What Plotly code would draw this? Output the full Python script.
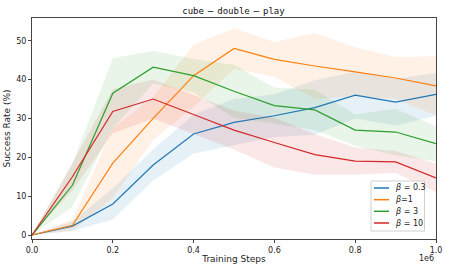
import plotly.graph_objects as go

steps = [0, 100000, 200000, 300000, 400000, 500000, 600000, 700000, 800000, 900000, 1000000]

labels = ["<i>β</i> = 0.3", "<i>β</i>=1", "<i>β</i> = 3", "<i>β</i> = 10"]
colors = ["#1f77b4", "#ff7f0e", "#2ca02c", "#d62728"]
fills = ["rgba(31,119,180,0.11)", "rgba(255,127,14,0.11)", "rgba(44,160,44,0.11)", "rgba(214,39,40,0.11)"]

mean_b03 = [0, 2.3, 8.0, 18.0, 26.0, 29.0, 30.7, 32.8, 36.0, 34.2, 36.2]
std_b03 = [0, 1.2, 4.0, 4.0, 5.0, 6.0, 5.5, 7.0, 6.0, 6.0, 5.5]
mean_b1 = [0, 2.5, 18.5, 30.0, 41.0, 48.0, 45.2, 43.5, 42.0, 40.4, 38.4]
std_b1 = [0, 1.5, 9.0, 5.5, 8.0, 5.2, 4.5, 8.5, 6.3, 5.4, 7.6]
mean_b3 = [0, 12.8, 36.5, 43.2, 41.0, 37.0, 33.3, 32.2, 27.0, 26.5, 23.5]
std_b3 = [0, 5.5, 9.0, 4.2, 4.3, 6.8, 4.6, 5.2, 4.0, 6.0, 4.5]
mean_b10 = [0, 15.0, 31.8, 35.0, 31.0, 27.0, 23.8, 20.7, 19.0, 18.8, 14.7]
std_b10 = [0, 3.5, 5.7, 5.0, 5.0, 5.0, 6.4, 5.2, 3.5, 2.8, 3.7]

means = [mean_b03, mean_b1, mean_b3, mean_b10]
stds = [std_b03, std_b1, std_b3, std_b10]

W, H = 449, 269
L, R, T, B = 32, 13, 18, 30
PW, PH = W - L - R, H - T - B


def px(x):
    return (x - L) / PW


def py(y):
    return (H - B - y) / PH


fig = go.Figure()
for m, s, fc in zip(means, stds, fills):
    up = [a + b for a, b in zip(m, s)]
    lo = [a - b for a, b in zip(m, s)]
    fig.add_trace(go.Scatter(x=steps, y=up, mode="lines", line=dict(width=0),
                             showlegend=False, hoverinfo="skip"))
    fig.add_trace(go.Scatter(x=steps, y=lo, mode="lines", line=dict(width=0),
                             fill="tonexty", fillcolor=fc, showlegend=False, hoverinfo="skip"))
for m, lab, c in zip(means, labels, colors):
    fig.add_trace(go.Scatter(x=steps, y=m, mode="lines", name=lab, showlegend=False,
                             line=dict(color=c, width=1.2)))

# compact legend (matplotlib style)
fig.add_shape(type="rect", xref="paper", yref="paper",
              x0=px(371), x1=px(424.5), y0=py(231), y1=py(181),
              line=dict(color="#d0d0d0", width=1), fillcolor="rgba(255,255,255,0.85)", layer="above")
row_y = [188, 199.7, 211.3, 223]
for lab, c, ry in zip(labels, colors, row_y):
    fig.add_shape(type="line", xref="paper", yref="paper",
                  x0=px(374), x1=px(389), y0=py(ry), y1=py(ry),
                  line=dict(color=c, width=1.5), layer="above")
    fig.add_annotation(text=lab, xref="paper", yref="paper", x=px(393), y=py(ry),
                       xanchor="left", yanchor="middle", showarrow=False,
                       font=dict(size=8, color="#222"))

sep = "<span style='font-family:DejaVu Sans'> \u2212 </span>"
title_text = "cube" + sep + "double" + sep + "play"

fig.update_layout(
    width=W, height=H,
    margin=dict(l=L, r=R, t=T, b=B, autoexpand=False),
    paper_bgcolor="white", plot_bgcolor="white",
    font=dict(family="DejaVu Sans", size=8, color="#222"),
    title=dict(text=title_text, x=233.5 / W, xanchor="center",
               xref="container", yref="container", y=1 - 11 / H, yanchor="middle",
               font=dict(family="DejaVu Sans Mono", size=9, color="#111")),
    showlegend=False,
)
fig.update_xaxes(range=[0, 1000000], tickvals=[0, 200000, 400000, 600000, 800000, 1000000],
                 ticktext=["0.0", "0.2", "0.4", "0.6", "0.8", "1.0"], automargin=False,
                 showgrid=False, zeroline=False, showline=True, linecolor="#444", linewidth=1,
                 mirror=True, ticks="outside", ticklen=3, tickcolor="#444",
                 title=dict(text="Training Steps", font=dict(size=9), standoff=2))
fig.update_yaxes(range=[-1.03, 55.85], tickvals=[0, 10, 20, 30, 40, 50], automargin=False,
                 showgrid=False, zeroline=False, showline=True, linecolor="#444", linewidth=1,
                 mirror=True, ticks="outside", ticklen=3, tickcolor="#444",
                 title=dict(text="Success Rate (%)", font=dict(size=9), standoff=4))
fig.add_annotation(text="1e6", xref="paper", yref="paper", x=1.0, y=py(251.5),
                   xanchor="right", yanchor="top", showarrow=False, font=dict(size=8))

fig.write_html("out.html", config={"displayModeBar": False},
               post_script="document.body.style.margin='0px';")
